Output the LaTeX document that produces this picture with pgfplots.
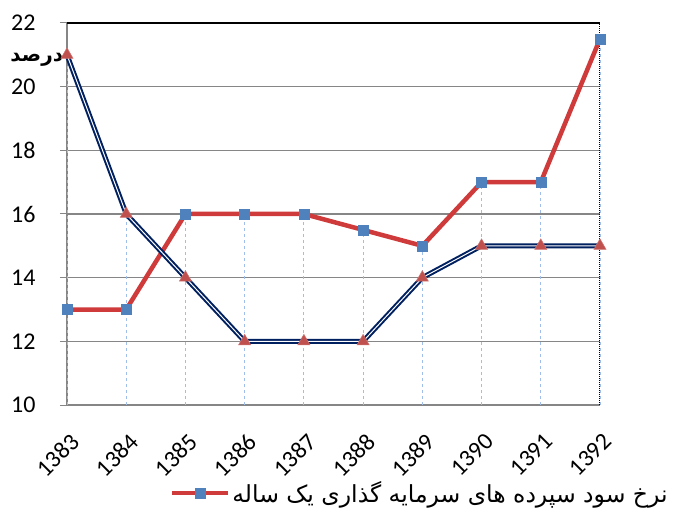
\documentclass[border=0pt]{standalone}
\usepackage{fontspec}
\setmainfont{Carlito}
\newfontfamily\arabicfont[Script=Arabic]{DejaVu Sans}
\TeXXeTstate=1
\usepackage{pgfplots}
\pgfplotsset{compat=1.18}
\definecolor{redline}{RGB}{207,58,58}
\definecolor{sqblue}{RGB}{79,129,189}
\definecolor{trired}{RGB}{192,80,77}
\definecolor{navyline}{RGB}{0,32,96}
\definecolor{dropblue}{RGB}{160,190,235}
\definecolor{gridgray}{RGB}{134,134,134}
\begin{document}
\begin{tikzpicture}
\useasboundingbox (-67pt,-106pt) rectangle (607pt,405pt);
\begin{axis}[
  at={(0pt,0pt)}, anchor=south west,
  scale only axis, width=533pt, height=382pt,
  xmin=0, xmax=9, ymin=10, ymax=22,
  clip=false,
  xtick={0,...,9},
  xticklabels={1383,1384,1385,1386,1387,1388,1389,1390,1391,1392},
  ytick={10,12,...,22},
  xtick pos=bottom, ytick pos=left,
  tick align=outside, major tick length=7pt,
  x tick style={draw=none},
  y tick style={gridgray, line width=1pt},
  axis line style={draw=none},
  ymajorgrids, major grid style={gridgray, line width=1.2pt},
  /pgf/number format/assume math mode=true,
  tick label style={font=\fontsize{24}{28}\selectfont},
  xticklabel style={rotate=45, anchor=north east, inner sep=0pt, xshift=3pt},
  xticklabel shift=22pt,
  yticklabel style={anchor=east, xshift=-21pt},
  legend style={at={(rel axis cs:1.131,-0.230)}, anchor=east, draw=none, fill=none,
    font=\arabicfont\fontsize{23.5}{27}\selectfont, inner sep=0pt},
  legend cell align=left,
  legend image code/.code={\draw[mark repeat=2,mark phase=2,#1] plot coordinates {(0pt,0pt)(28pt,0pt)(56pt,0pt)};},
]
% frame
\addplot[gridgray, line width=1.2pt, forget plot] coordinates {(0,10)(9,10)};
\addplot[gridgray, line width=1.2pt, forget plot] coordinates {(0,10)(0,22)};
\addplot[black, line width=1.2pt, forget plot] coordinates {(0,22)(9,22)};
\addplot[black, densely dotted, line width=1pt, forget plot] coordinates {(9,10)(9,22)};
% drop lines
\addplot[dropblue, dashed, line width=0.8pt, unbounded coords=jump, forget plot] coordinates {
(0,10)(0,21)(0.5,nan)
(1,10)(1,16)(1.5,nan)
(2,10)(2,16)(2.5,nan)
(3,10)(3,16)(3.5,nan)
(4,10)(4,16)(4.5,nan)
(5,10)(5,15.5)(5.5,nan)
(6,10)(6,15)(6.5,nan)
(7,10)(7,17)(7.5,nan)
(8,10)(8,17)(8.5,nan)
(9,10)(9,21.5)};
% red series (one-year deposit rate)
\addplot[redline, line width=4.5pt, mark=square*, mark size=5pt,
  mark options={fill=sqblue, draw=sqblue, line width=0.5pt, solid}] coordinates {
(0,13)(1,13)(2,16)(3,16)(4,16)(5,15.5)(6,15)(7,17)(8,17)(9,21.5)};
\addlegendentry{\beginR نرخ سود سپرده های سرمایه گذاری یک ساله\endR}
% navy series
\addplot[navyline, line width=2pt, double=white, double distance=1pt, forget plot] coordinates {
(0,21)(1,16)(2,14)(3,12)(4,12)(5,12)(6,14)(7,15)(8,15)(9,15)};
\addplot[only marks, mark=triangle*, mark size=7pt,
  mark options={fill=trired, draw=trired!80!white, line width=0.5pt}, forget plot] coordinates {
(0,21)(1,16)(2,14)(3,12)(4,12)(5,12)(6,14)(7,15)(8,15)(9,15)};
\node[anchor=east, inner sep=0pt, font=\arabicfont\bfseries\fontsize{20}{24}\selectfont] at (rel axis cs:-0.007,0.903) {\beginR درصد\endR};
\end{axis}
\end{tikzpicture}
\end{document}
